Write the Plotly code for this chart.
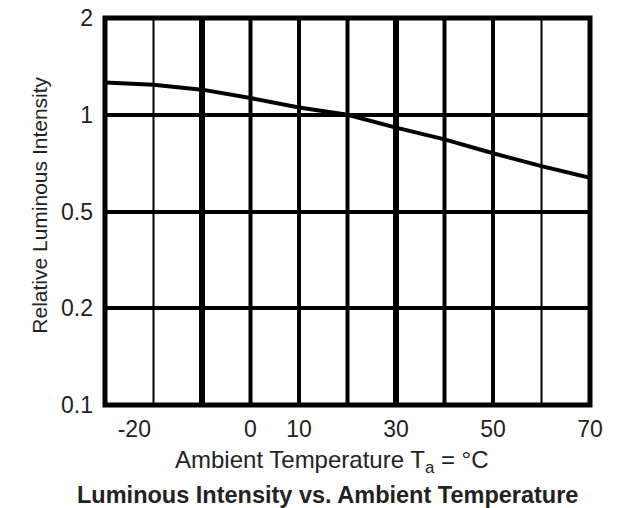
import subprocess
import numpy as np
import plotly.graph_objects as go

# ---- data ----
temps = [-30, -20, -10, 0, 10, 20, 30, 40, 50, 60, 70]
rel_intensity = [1.26, 1.24, 1.197, 1.127, 1.053, 1.0, 0.912, 0.838, 0.759, 0.692, 0.636]

y_levels = [0.1, 0.2, 0.5, 1, 2]
y_labels = ["0.1", "0.2", "0.5", "1", "2"]
x_ticks = [-20, 0, 10, 30, 50, 70]
x_labels = ["-20\u00a0\u00a0\u00a0\u00a0\u00a0\u00a0", "0", "10", "30", "50", "70"]
grid_temps = [-20, -10, 0, 10, 20, 30, 40, 50, 60]

# ---- styles ----
grid_widths = {-20: 2, -10: 6, 0: 4, 10: 4, 20: 4, 30: 6, 40: 4, 50: 4, 60: 2}

try:
    fl = subprocess.run(["fc-list"], capture_output=True, text=True).stdout.lower()
except Exception:
    fl = ""
if "liberation sans narrow" in fl or "liberationsansnarrow" in fl:
    tick_font = dict(family="Liberation Sans Narrow", size=28, color="#222")
else:
    tick_font = dict(family="Liberation Sans, Arial", size=23, color="#222")

xtitle_font = dict(family="Liberation Sans, Arial", size=24, color="#222")
caption_font = dict(family="Liberation Sans, Arial", size=23.5, color="#222")
ytitle_font = dict(family="Liberation Sans, Arial", size=21, color="#222")

# chart's value axis: labelled levels sit evenly spaced
idx = np.arange(len(y_levels))
def to_pos(v):
    return np.interp(np.log10(v), np.log10(y_levels), idx)

fig = go.Figure()
fig.add_trace(go.Scatter(
    x=temps, y=to_pos(np.array(rel_intensity)), mode="lines",
    line=dict(color="black", width=4), showlegend=False, hoverinfo="skip"))

shapes = []
for t in grid_temps:
    shapes.append(dict(type="line", xref="x", yref="paper", x0=t, x1=t, y0=0, y1=1,
                       line=dict(color="black", width=grid_widths[t]), layer="below"))
shapes.append(dict(type="rect", xref="paper", yref="paper", x0=0, x1=1, y0=0, y1=1,
                   line=dict(color="black", width=5), layer="above"))

fig.update_layout(
    width=618, height=508,
    margin=dict(l=105, r=28, t=18, b=103),
    paper_bgcolor="white", plot_bgcolor="white",
    shapes=shapes,
    xaxis=dict(range=[-30, 70], tickvals=x_ticks, ticktext=x_labels, showgrid=False,
               zeroline=False, showline=False, ticks="", tickfont=tick_font,
               ticklabelstandoff=8, automargin=False),
    yaxis=dict(range=[0, 4], tickvals=list(idx), ticktext=y_labels, showgrid=True,
               gridcolor="black", gridwidth=3.5, zeroline=False, showline=False, ticks="",
               tickfont=tick_font, ticklabelstandoff=11, automargin=False),
    annotations=[
        dict(text="Relative Luminous Intensity", xref="paper", yref="paper",
             x=-0.134, y=0.515, textangle=-90, showarrow=False, font=ytitle_font,
             xanchor="center", yanchor="middle"),
        dict(text="Ambient Temperature T<sub>a</sub> = °C", xref="paper", yref="paper",
             x=0.468, y=-0.147, showarrow=False, font=xtitle_font,
             xanchor="center", yanchor="middle"),
        dict(text="<b>Luminous Intensity vs. Ambient Temperature</b>", xref="paper", yref="paper",
             x=0.459, y=-0.232, showarrow=False, font=caption_font,
             xanchor="center", yanchor="middle"),
    ],
)

fig.write_html("out.html", config={"displayModeBar": False},
               post_script="document.body.style.margin='0';")
